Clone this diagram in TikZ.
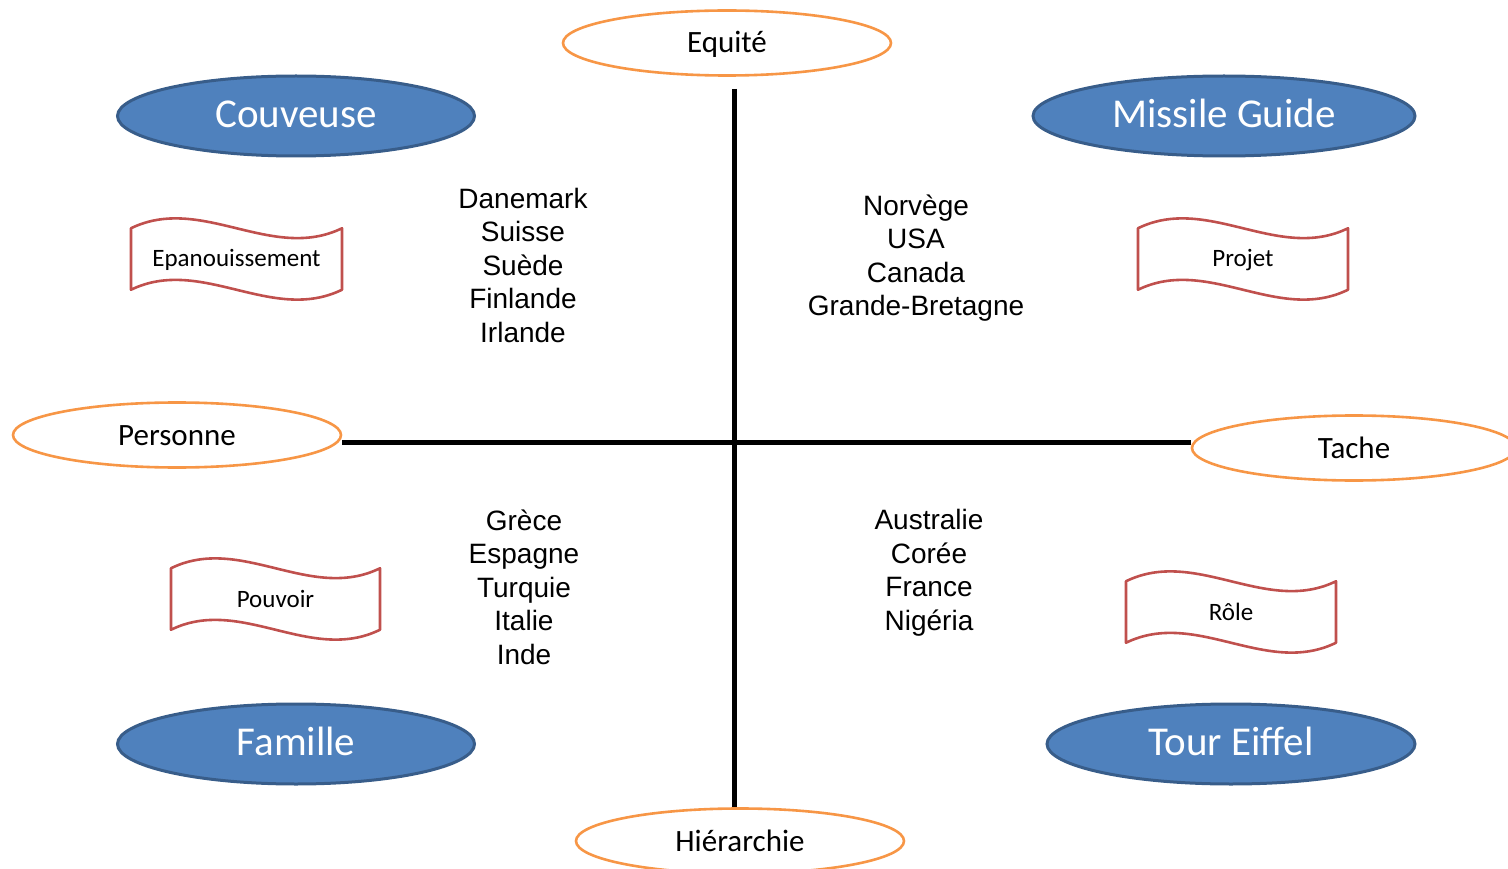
\documentclass[tikz,border=0pt]{standalone}
\usepackage{fontspec}
\setmainfont{Carlito}
\newfontfamily\arialfont{Liberation Sans}
\usetikzlibrary{shapes.geometric}

\definecolor{poleorange}{HTML}{F79646}
\definecolor{ovalblue}{HTML}{4F81BD}
\definecolor{ovalrim}{HTML}{385D8A}
\definecolor{flagred}{HTML}{C0504D}

\tikzset{
  pole/.style={ellipse, draw=poleorange, line width=2.6pt, fill=white,
    inner sep=0pt, minimum width=328, minimum height=65,
    text height=20pt, text depth=0pt,
    font=\fontsize{31}{37}\selectfont, text=black},
  model/.style={ellipse, draw=ovalrim, line width=3pt, fill=ovalblue,
    inner sep=0pt, minimum height=80, text height=27pt, text depth=4pt,
    font=\fontsize{41}{49}\selectfont, text=white},
  flagline/.style={draw=flagred, line width=2.6pt, fill=white, line join=round},
  flagtext/.style={inner sep=0pt, text height=16pt, text depth=0pt,
    font=\fontsize{25}{30}\selectfont, text=black},
  countries/.style={align=center, inner sep=0pt,
    font=\arialfont\fontsize{28}{33.5}\selectfont, text=black},
  axisline/.style={line width=5pt, black},
  axisshadow/.style={line width=5pt, black!30},
}

% wavy banner: name, left x, top y, width, height, label
\newcommand{\banner}[6]{%
  \pgfmathsetmacro\wa{#5*0.125}%
  \pgfmathsetmacro\wA{\wa*10/3}%
  \draw[flagline] (#2, #3+\wa)
    .. controls (#2+#4/3, #3+\wa-\wA) and (#2+2*#4/3, #3+\wa+\wA) .. (#2+#4, #3+\wa)
    -- (#2+#4, #3+#5-\wa)
    .. controls (#2+2*#4/3, #3+#5-\wa+\wA) and (#2+#4/3, #3+#5-\wa-\wA) .. (#2, #3+#5-\wa)
    -- cycle;
  \node[flagtext] (#1) at (#2+#4/2, #3+#5/2) {#6};
}

\begin{document}
\begin{tikzpicture}[x=1pt, y=-1pt]
\useasboundingbox (0,0) rectangle (1508,869);
\clip (0,0) rectangle (1508,869);

% pole labels at the ends of the axes
\node[pole] (equite) at (727,43) {Equité};
\node[pole] (personne) at (177,435) {Personne};
\node[pole, minimum width=324] (tache) at (1354,448) {Tache};
\node[pole] (hierarchie) at (740,841) {Hiérarchie};

% axes
\coordinate (vtop) at (734,89);
\coordinate (hmid) at (734,442);
\begin{scope}[shift={(2.5,2.5)}]
  \draw[axisshadow] (vtop) -- (vtop |- hierarchie.north);
  \draw[axisshadow] (personne.east |- hmid) -- (tache.west |- hmid);
\end{scope}
\draw[axisline] (vtop) -- (vtop |- hierarchie.north);
\draw[axisline] (personne.east |- hmid) -- (tache.west |- hmid);

% corner models
\node[model, minimum width=357] (couveuse) at (296,116) {Couveuse};
\node[model, minimum width=382] (missile) at (1224,116) {Missile Guide};
\node[model, minimum width=357] (famille) at (296,744) {Famille};
\node[model, minimum width=368] (tour) at (1231,744) {Tour Eiffel};

% banners
\banner{epanouissement}{131}{218}{211}{82}{Epanouissement}
\banner{projet}{1138}{218}{210}{82}{Projet}
\banner{pouvoir}{171}{558}{209}{82}{Pouvoir}
\banner{role}{1126}{571}{210}{82}{Rôle}

% countries in each quadrant
\node[countries] (q1) at (523,265) {Danemark\\Suisse\\Suède\\Finlande\\Irlande};
\node[countries] (q2) at (916,258) {Norvège\\USA\\Canada\\Grande-Bretagne};
\node[countries] (q3) at (524,587) {Grèce\\Espagne\\Turquie\\Italie\\Inde};
\node[countries] (q4) at (929,573) {Australie\\Corée\\France\\Nigéria};
\end{tikzpicture}
\end{document}
